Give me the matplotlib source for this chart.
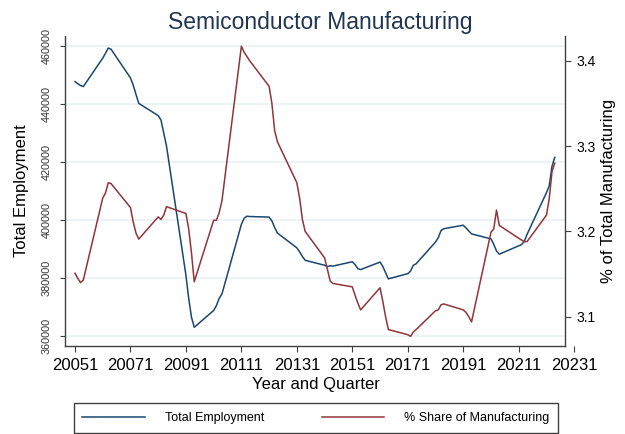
import matplotlib.pyplot as plt

plt.rcParams['font.family'] = ['Liberation Sans', 'DejaVu Sans']

# period code = year*10 + quarter (20051 = 2005 Q1), plotted on a plain numeric axis
period = [y * 10 + q for y in range(2005, 2023) for q in range(1, 5)]

employment = [
    447700, 447000, 446400, 446000,   # 2005
    455800, 457500, 459300, 458900,   # 2006
    449000, 446500, 443300, 440200,   # 2007
    436000, 434500, 430000, 425500,   # 2008
    381000, 373000, 366500, 363000,   # 2009
    368800, 370500, 373000, 374500,   # 2010
    398500, 400600, 401300, 401200,   # 2011
    401000, 399700, 397400, 395500,   # 2012
    390400, 389000, 387400, 386100,   # 2013
    384400, 383900, 384200, 384100,   # 2014
    385600, 384600, 383200, 382900,   # 2015
    385500, 384000, 381800, 379700,   # 2016
    381500, 382400, 384400, 384900,   # 2017
    392400, 393900, 396400, 397000,   # 2018
    398200, 397300, 396200, 395200,   # 2019
    393500, 391600, 389300, 388200,   # 2020
    391100, 391500, 392600, 395000,   # 2021
    409400, 411700, 418500, 421600,   # 2022
]

share = [
    3.151, 3.145, 3.140, 3.143,
    3.239, 3.245, 3.257, 3.256,
    3.228, 3.211, 3.198, 3.191,
    3.217, 3.214, 3.219, 3.229,
    3.221, 3.203, 3.175, 3.141,
    3.213, 3.213, 3.222, 3.236,
    3.417, 3.410, 3.405, 3.400,
    3.370, 3.350, 3.318, 3.305,
    3.257, 3.239, 3.214, 3.200,
    3.169, 3.156, 3.142, 3.139,
    3.135, 3.125, 3.116, 3.108,
    3.134, 3.118, 3.100, 3.085,
    3.079, 3.077, 3.082, 3.085,
    3.107, 3.108, 3.114, 3.115,
    3.108, 3.105, 3.100, 3.094,
    3.199, 3.203, 3.225, 3.207,
    3.192, 3.190, 3.188, 3.188,
    3.219, 3.238, 3.270, 3.280,
]

x_ticks = list(range(20051, 20232, 20))
emp_ticks = [360000, 380000, 400000, 420000, 440000, 460000]
share_ticks = [3.1, 3.2, 3.3, 3.4]

navy = '#1a476f'
maroon = '#90353b'
grid_col = '#eaf2f3'
axis_col = '#404040'

x_lo, x_hi, x_frame = 20047.4, 20231.3, 20227.7

fig = plt.figure(figsize=(6.25, 4.34), dpi=100)
ax = fig.add_axes([65 / 625, 1 - 346 / 434, 510 / 625, 310 / 434])
ax2 = ax.twinx()

ax.hlines(emp_ticks, x_lo, x_frame, color=grid_col, lw=1.3, zorder=0)
l1, = ax.plot(period, employment, color=navy, lw=1.1, label='Total Employment')
l2, = ax2.plot(period, share, color=maroon, lw=1.1, label='% Share of Manufacturing')

ax.set_xlim(x_lo, x_hi)
ax.set_ylim(356550, 463450)
ax2.set_ylim(3.0657, 3.429)

ax.set_xticks(x_ticks)
ax.set_xticklabels([str(t) for t in x_ticks], fontsize=12)
ax.set_yticks(emp_ticks)
ax.set_yticklabels([str(t) for t in emp_ticks], fontsize=7.8, rotation=90, va='center',
                   color='#333333')
ax2.set_yticks(share_ticks)
ax2.set_yticklabels([f'{t:.1f}' for t in share_ticks], fontsize=9.5, rotation=90, va='center')

ax.tick_params(axis='x', length=4, pad=4.5, color=axis_col)
ax.tick_params(axis='y', length=3.6, pad=6, color=axis_col)
ax2.tick_params(axis='y', length=4.3, pad=4, color=axis_col)

for s in ['top', 'right']:
    ax.spines[s].set_visible(False)
for s in ['top', 'left', 'bottom']:
    ax2.spines[s].set_visible(False)
ax.spines['bottom'].set_bounds(x_lo, x_frame)
ax2.spines['right'].set_position(('data', x_frame))
for sp in [ax.spines['left'], ax.spines['bottom'], ax2.spines['right']]:
    sp.set_color(axis_col)
    sp.set_linewidth(1.0)

ax.set_title('Semiconductor Manufacturing', fontsize=16.5, color='#1f3552', pad=5)

ax.set_xlabel('Year and Quarter', fontsize=12)
ax.xaxis.set_label_coords(250.5 / 510, -39 / 310)
ax.xaxis.label.set_va('center')

ax.set_ylabel('Total Employment', fontsize=12)
ax.yaxis.set_label_coords(-43 / 510, 0.5)
ax.yaxis.label.set_va('center')

ax2.set_ylabel('% of Total Manufacturing', fontsize=12)
ax2.yaxis.set_label_coords(543 / 510, 0.5)
ax2.yaxis.label.set_va('center')

leg = fig.legend(handles=[l1, l2], loc='center', bbox_to_anchor=(316 / 625, 1 - 418 / 434),
                 ncol=2, fontsize=9, handlelength=5, handletextpad=1.6, columnspacing=4.6,
                 borderpad=0.7, fancybox=False, framealpha=1)
leg.get_frame().set_edgecolor(axis_col)
leg.get_frame().set_linewidth(1.0)

fig.savefig('out.png', dpi=100)
